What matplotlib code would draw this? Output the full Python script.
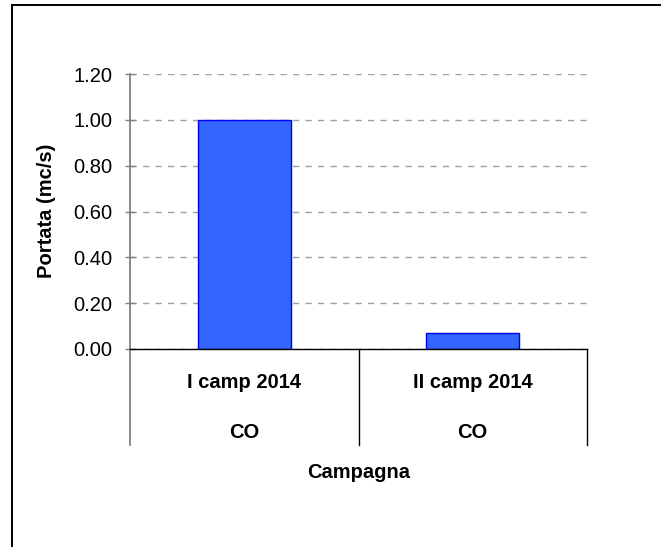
import numpy as np
import matplotlib
matplotlib.use("Agg")
import matplotlib.pyplot as plt
from matplotlib.lines import Line2D
import matplotlib.transforms as mtransforms

plt.rcParams['font.family'] = ['Liberation Sans', 'DejaVu Sans']

# dati portata per campagna
campagne = ["I camp 2014", "II camp 2014"]
stazioni = ["CO", "CO"]
portata = [1.00, 0.07]
yticks = [0.0, 0.2, 0.4, 0.6, 0.8, 1.0, 1.2]

FS = 14.5
W, H = 661, 547
fig = plt.figure(figsize=(W / 100, H / 100), dpi=100)

# riquadro esterno (solo lato sinistro e superiore visibili)
fig.add_artist(Line2D([11.5 / W, 11.5 / W], [0, 1 - 5 / H], color='black', lw=1.4))
fig.add_artist(Line2D([11.5 / W, 1], [1 - 5 / H, 1 - 5 / H], color='black', lw=1.4))

x0, x1 = 130, 587
ytop, ybot = 74, 349
ax = fig.add_axes([x0 / W, 1 - ybot / H, (x1 - x0) / W, (ybot - ytop) / H])

x = np.arange(len(campagne))
ax.bar(x, portata, width=0.406, color='#3366FF', edgecolor='#0000EE', linewidth=1, zorder=3)

ax.set_xlim(-0.5, len(campagne) - 0.5)
ax.set_ylim(0, 1.2)
ax.set_yticks(yticks)
ax.set_yticklabels([f"{v:.2f}" for v in yticks], fontsize=FS)
ax.tick_params(axis='y', direction='inout', length=7.5, width=1, color='#808080', pad=9)
ax.set_xticks([])

ax.grid(axis='y', color='#A0A0A0', linestyle=(0, (4.5, 4.5)), linewidth=1, zorder=0)
ax.set_axisbelow(True)

for s in ['top', 'right']:
    ax.spines[s].set_visible(False)
ax.spines['left'].set_color('#808080')
ax.spines['left'].set_linewidth(1.3)
ax.spines['bottom'].set_color('black')
ax.spines['bottom'].set_linewidth(1)
ax.spines['bottom'].set_zorder(4)

# tabella delle categorie sotto l'asse
trans = mtransforms.blended_transform_factory(ax.transData, ax.transAxes)
hax = ybot - ytop
ylow = -(445 - ybot) / hax
for i, xd in enumerate(np.arange(-0.5, len(campagne), 1.0)):
    col = '#808080' if i == 0 else 'black'
    lw = 1.3 if i == 0 else 1
    ax.add_line(Line2D([xd, xd], [0, ylow], transform=trans, color=col, lw=lw, clip_on=False))

for xi, c, s in zip(x, campagne, stazioni):
    ax.text(xi, -(383 - ybot) / hax, c, transform=trans, ha='center', va='center',
            fontsize=FS, fontweight='bold')
    ax.text(xi, -(432 - ybot) / hax, s, transform=trans, ha='center', va='center',
            fontsize=FS, fontweight='bold')

ax.text(0.5, -(472 - ybot) / hax, "Campagna", transform=ax.transAxes, ha='center',
        va='center', fontsize=FS, fontweight='bold')
fig.text(47 / W, 1 - 211 / H, "Portata (mc/s)", rotation=90, ha='center', va='center',
         fontsize=FS, fontweight='bold')

fig.savefig("out.png", dpi=100)
